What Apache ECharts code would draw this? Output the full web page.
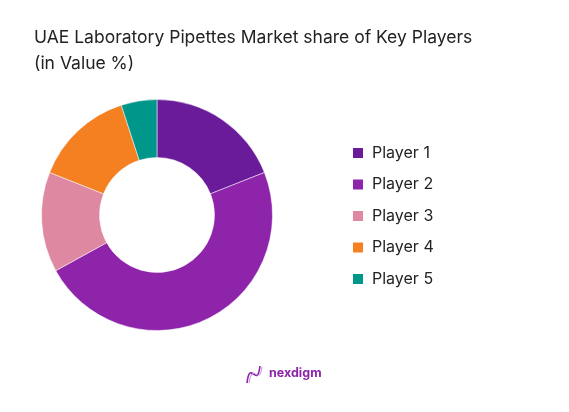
<!DOCTYPE html>
<html><head><meta charset="utf-8">
<script src="https://cdn.jsdelivr.net/npm/echarts@6/dist/echarts.min.js"></script>
<style>html,body{margin:0;padding:0;background:#fff}#c{width:569px;height:412px}</style>
</head><body><div id="c"></div>
<script>
const categories = ['Player 1','Player 2','Player 3','Player 4','Player 5'];
const values = [19, 48, 14, 14, 5];
const colors = ['#6A1B9A','#8E24AA','#DE88A2','#F58021','#00968A'];

const chart = echarts.init(document.getElementById('c'));
chart.setOption({
  animation:false,
  backgroundColor:'#fff',
  title:{
    text:'UAE Laboratory Pipettes Market share of Key Players\n(in Value %)',
    left:34, top:24, padding:0,
    textStyle:{fontFamily:'Inter',fontWeight:'normal',fontSize:17.5,color:'#222',lineHeight:26.5}
  },
  legend:{
    orient:'vertical', left:351, top:145, padding:0,
    icon:'rect', itemWidth:12, itemHeight:12, itemGap:15.5,
    textStyle:{fontFamily:'Inter',fontSize:16,color:'#222',padding:[0,0,0,3]},
    data:categories
  },
  series:[{
    type:'pie', center:[157,215], radius:[57.5,115.5], startAngle:90, clockwise:true,
    label:{show:false}, labelLine:{show:false},
    itemStyle:{borderColor:'#fff',borderWidth:0.5},
    emphasis:{disabled:true},
    data: categories.map((n,i)=>({name:n,value:values[i],itemStyle:{color:colors[i]}}))
  }],
  graphic:[
    {type:'bezierCurve', shape:{x1:247,y1:383,x2:260,y2:366,cpx1:250,cpy1:358,cpx2:257,cpy2:390}, style:{stroke:'#8E24AA',lineWidth:1.6,fill:null}},
    {type:'bezierCurve', shape:{x1:249,y1:383,x2:262,y2:367,cpx1:253,cpy1:360,cpx2:259,cpy2:388}, style:{stroke:'#C58BE0',lineWidth:1,fill:null}},
    {type:'text', left:269, top:367, style:{text:'nexdigm',fontFamily:'Inter',fontWeight:'bold',fontSize:12.5,fill:'#8E24AA'}}
  ]
});
</script></body></html>
